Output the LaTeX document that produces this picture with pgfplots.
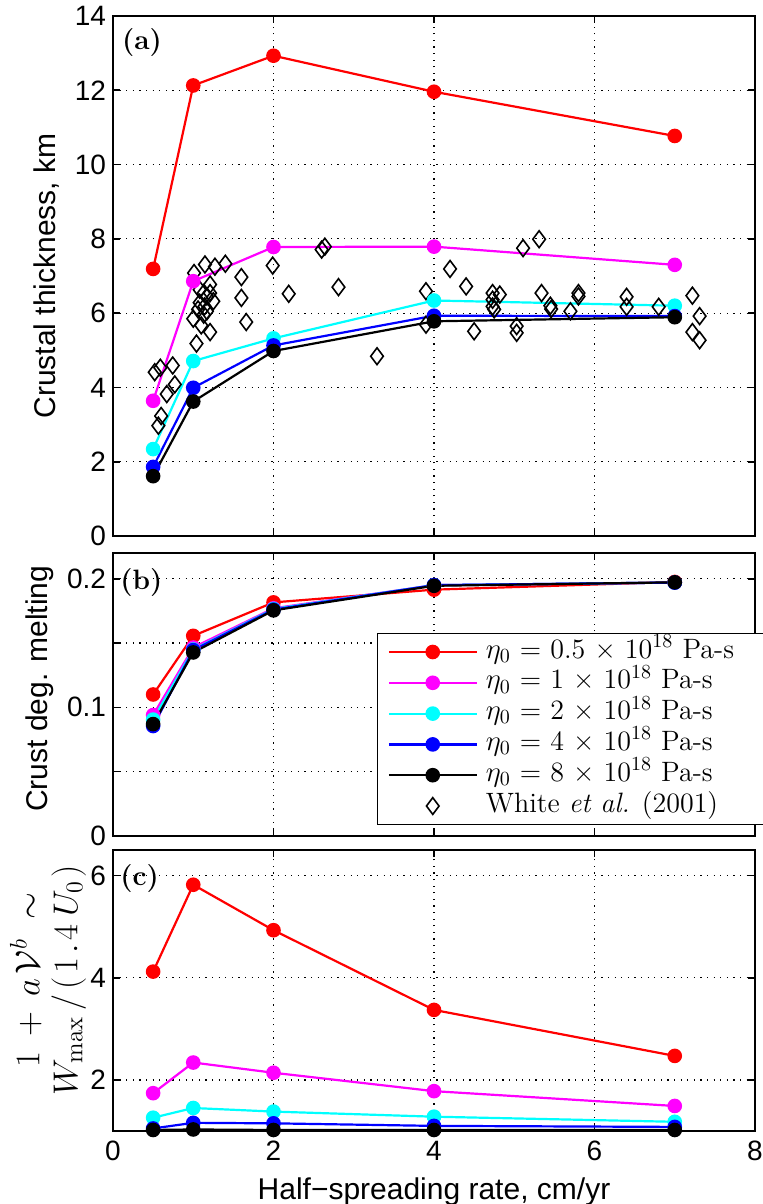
\documentclass[border=0pt]{standalone}
\usepackage{fontspec}
\usepackage{pgfplots}
\pgfplotsset{compat=1.18}
\newfontfamily\helv{Liberation Sans}

\definecolor{cRed}{RGB}{255,0,0}
\definecolor{cMag}{RGB}{255,0,255}
\definecolor{cCyan}{RGB}{0,255,255}
\definecolor{cBlue}{RGB}{0,0,255}

\tikzset{
  tag/.style={anchor=north west, inner sep=0pt,
    font=\bfseries\fontsize{14}{16}\selectfont},
}

\pgfplotsset{
  panel/.style={
    scale only axis, width=321pt,
    xmin=0, xmax=8, xtick={0,2,4,6,8},
    axis line style={line width=1pt},
    tick style={line width=0.8pt, black},
    tick align=inside, major tick length=3.5pt,
    grid=major,
    major grid style={dash pattern=on 0.6pt off 2.7pt, line width=0.6pt, black},
    tick label style={font=\helv\fontsize{14}{16}\selectfont},
    xticklabel style={yshift=-1.5pt},
    /pgf/number format/assume math mode=true,
    label style={font=\helv\fontsize{15}{17}\selectfont},
    every axis plot/.append style={line width=1.1pt, mark=*, mark size=3.1pt},
    legend image code/.code={\draw[mark repeat=2, mark phase=2, ##1]
      plot coordinates {(0pt,0pt) (22pt,0pt) (44pt,0pt)};},
  },
  sRed/.style={color=cRed},
  sMag/.style={color=cMag},
  sCyan/.style={color=cCyan},
  sBlue/.style={color=cBlue},
  sBlack/.style={color=black},
  obs/.style={only marks, mark=diamond, mark size=4.2pt, line width=0.8pt,
    black, mark options={fill=none}},
  obsleg/.style={black, line width=0.8pt, mark=diamond, mark size=4.2pt,
    mark options={fill=none},
    legend image code/.code={\draw[##1] plot coordinates {(22pt,0pt)};}},
}

\begin{document}
\begin{tikzpicture}

% (a) crustal thickness
\begin{axis}[panel, at={(56.5pt,334pt)}, anchor=south west, height=260pt,
  ymin=0, ymax=14, ytick={0,2,...,14}, xticklabels={},
  ylabel={Crustal thickness, km},
  ylabel style={at={(axis description cs:-0.1028,0.5)}, anchor=center}]
\addplot[obs] coordinates {
  (0.52,4.41) (0.59,4.53) (0.744,4.59) (0.67,3.82) (0.77,4.08) (0.60,3.23) (0.565,2.97)
  (1.01,7.08) (1.146,7.31) (1.27,7.25) (1.40,7.33) (1.60,6.97) (1.21,6.77)
  (1.08,6.63) (1.13,6.54) (1.17,6.45) (1.21,6.54) (1.25,6.32) (1.08,6.28)
  (1.14,6.18) (1.06,6.10) (1.17,6.05) (1.13,5.96)
  (1.60,6.41) (2.19,6.52) (1.00,5.85) (1.10,5.67) (1.21,5.49) (1.66,5.76)
  (1.04,5.18) (1.99,7.28)
  (2.60,7.71) (2.64,7.79) (2.81,6.70) (3.29,4.84) (3.90,6.59) (3.90,5.69)
  (4.20,7.19) (4.40,6.72) (4.50,5.51)
  (4.73,6.54) (4.73,6.36) (4.73,6.18) (4.75,6.10)
  (5.11,7.75) (5.31,7.99) (4.82,6.50) (5.03,5.65) (5.03,5.47) (5.34,6.54)
  (5.45,6.20) (5.46,6.11) (5.70,6.05) (5.80,6.54) (5.80,6.45)
  (6.40,6.44) (6.40,6.17) (6.80,6.17) (7.22,6.47) (7.31,5.92) (7.22,5.49) (7.31,5.27)
};
\addplot[sRed]   coordinates {(0.5,7.19) (1,12.13) (2,12.93) (4,11.96) (7,10.77)};
\addplot[sMag]   coordinates {(0.5,3.64) (1,6.86) (2,7.78) (4,7.79) (7,7.30)};
\addplot[sCyan]  coordinates {(0.5,2.34) (1,4.71) (2,5.32) (4,6.34) (7,6.20)};
\addplot[sBlue]  coordinates {(0.5,1.86) (1,3.99) (2,5.13) (4,5.93) (7,5.92)};
\addplot[sBlack] coordinates {(0.5,1.61) (1,3.62) (2,4.98) (4,5.78) (7,5.89)};
\node[tag] at (rel axis cs:0.0135,0.976) {(a)};
\end{axis}

% (b) degree of melting of the crust
\begin{axis}[panel, at={(56.5pt,184pt)}, anchor=south west, height=141.5pt,
  ymin=0, ymax=0.22, ytick={0,0.05,...,0.2}, yticklabels={0,,0.1,,0.2},
  xticklabels={},
  ylabel={Crust deg. melting},
  ylabel style={at={(axis description cs:-0.1137,0.52)}, anchor=center},
  legend style={at={(rel axis cs:0.411,0.718)}, anchor=north west,
    draw=black, line width=0.8pt, fill=white,
    font=\fontsize{14}{15}\selectfont\addfontfeatures{LetterSpace=16},
    row sep=0pt, column sep=2pt, inner xsep=5pt, inner ysep=1.5pt,
    nodes={text height=9.5pt, text depth=3.5pt, inner ysep=1.2pt},
    cells={anchor=west}}]
\addplot[sRed]   coordinates {(0.5,0.110) (1,0.1556) (2,0.1816) (4,0.1915) (7,0.1975)};
\addplot[sMag]   coordinates {(0.5,0.094) (1,0.1465) (2,0.177) (4,0.195) (7,0.197)};
\addplot[sCyan]  coordinates {(0.5,0.0905) (1,0.145) (2,0.1765) (4,0.195) (7,0.197)};
\addplot[sBlue]  coordinates {(0.5,0.0855) (1,0.1445) (2,0.176) (4,0.195) (7,0.197)};
\addplot[sBlack] coordinates {(0.5,0.087) (1,0.1427) (2,0.1754) (4,0.1945) (7,0.1972)};
\addlegendimage{obsleg}
\legend{$\eta_0$ = 0.5 × 10$^{18}$ Pa-s\hspace*{19pt},
        $\eta_0$ = 1 × 10$^{18}$ Pa-s,
        $\eta_0$ = 2 × 10$^{18}$ Pa-s,
        $\eta_0$ = 4 × 10$^{18}$ Pa-s,
        $\eta_0$ = 8 × 10$^{18}$ Pa-s,
        White \textit{et al.} (2001)}
\node[tag] at (rel axis cs:0.011,0.947) {(b)};
\end{axis}

% (c) scaling of the maximum upwelling
\begin{axis}[panel, at={(56.5pt,36.5pt)}, anchor=south west, height=140.5pt,
  clip=false,
  ymin=1, ymax=6.5, ytick={2,4,6},
  xlabel={Half−spreading rate, cm/yr},
  xlabel style={at={(axis description cs:0.5,-0.217)}, anchor=center},
  ylabel={$\medmuskip=8mu\thickmuskip=10mu
          1 + a\mkern2mu\mathcal{V}^{\mkern1mu b} \sim$\\
          $W_{\max}\mkern3mu/\mkern3mu(\mkern2mu1\mkern2mu.\mkern2mu4\mkern4mu U_0\mkern2mu)$},
  ylabel style={at={(axis description cs:-0.1013,0.537)}, anchor=center,
    align=center, font=\fontsize{18}{19}\selectfont}]
\addplot[sRed]   coordinates {(0.5,4.12) (1,5.82) (2,4.93) (4,3.37) (7,2.47)};
\addplot[sMag]   coordinates {(0.5,1.74) (1,2.34) (2,2.14) (4,1.78) (7,1.49)};
\addplot[sCyan]  coordinates {(0.5,1.26) (1,1.45) (2,1.38) (4,1.28) (7,1.18)};
\addplot[sBlue]  coordinates {(0.5,1.05) (1,1.16) (2,1.15) (4,1.10) (7,1.08)};
\addplot[sBlack] coordinates {(0.5,1.02) (1,1.03) (2,1.02) (4,1.02) (7,1.02)};
\node[tag] at (rel axis cs:0.011,0.95) {(c)};
\end{axis}

\pgfresetboundingbox
\path[use as bounding box] (0,0) rectangle (381pt,602pt);
\end{tikzpicture}
\end{document}
